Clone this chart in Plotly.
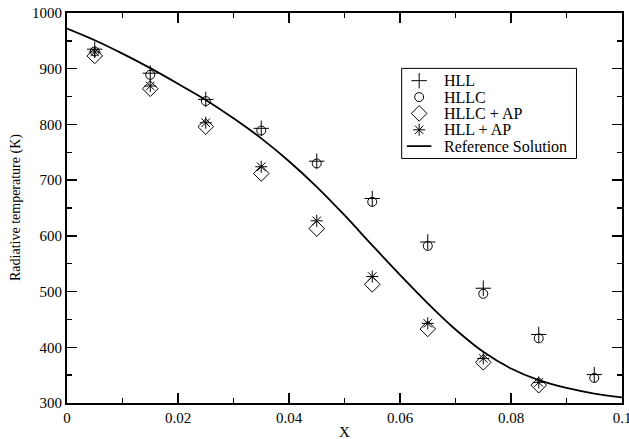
import plotly.graph_objects as go

x_pts = [0.005, 0.015, 0.025, 0.035, 0.045, 0.055, 0.065, 0.075, 0.085, 0.095]
hll = [935, 892, 845, 793, 734, 667, 589, 506, 423, 351]
hllc = [931, 889, 842, 789, 730, 661, 582, 496, 416, 345]
x_ap = [0.005, 0.015, 0.025, 0.035, 0.045, 0.055, 0.065, 0.075, 0.085]
hllc_ap = [923, 864, 796, 712, 613, 513, 433, 373, 332]
hll_ap = [930, 869, 803, 724, 627, 527, 443, 380, 337]

x_ref = [0, 0.005, 0.01, 0.015, 0.02, 0.025, 0.03, 0.035, 0.04, 0.045, 0.05,
         0.055, 0.06, 0.065, 0.07, 0.075, 0.08, 0.085, 0.09, 0.095, 0.1]
t_ref = [972, 951, 927, 901, 873, 844, 811, 775, 734, 688, 637,
         583, 530, 479, 432, 392, 362, 341, 327, 317, 310]

x_tickvals = [0, 0.02, 0.04, 0.06, 0.08, 0.1]
x_ticktext = ["0", "0.02", "0.04", "0.06", "0.08", "0.1"]
y_tickvals = [300, 400, 500, 600, 700, 800, 900, 1000]

legend_names = ["HLL", "HLLC", "HLLC + AP", "HLL + AP", "Reference Solution"]
legend_symbols = ["cross-thin-open", "circle-open", "diamond-open", "asterisk-open", None]
legend_sizes = [11, 9, 12, 10, None]

FONT = "Liberation Serif"
BLACK = "black"

fig = go.Figure()
series = [(x_pts, hll), (x_pts, hllc), (x_ap, hllc_ap), (x_ap, hll_ap)]
for (xs, ys), name, sym, sz in zip(series, legend_names, legend_symbols, legend_sizes):
    fig.add_trace(go.Scatter(x=xs, y=ys, mode="markers", name=name, showlegend=False,
                             marker=dict(symbol=sym, size=sz, color=BLACK,
                                         line=dict(color=BLACK, width=1))))
fig.add_trace(go.Scatter(x=x_ref, y=t_ref, mode="lines", name=legend_names[4], showlegend=False,
                         line=dict(color=BLACK, width=1.8, shape="spline")))

# custom compact legend on its own small axis (row index scale)
rows = list(range(len(legend_names)))
for r, sym, sz in zip(rows[:4], legend_symbols[:4], legend_sizes[:4]):
    fig.add_trace(go.Scatter(x=[1.0], y=[r], xaxis="x2", yaxis="y2", mode="markers",
                             showlegend=False, hoverinfo="skip",
                             marker=dict(symbol=sym, size=sz, color=BLACK,
                                         line=dict(color=BLACK, width=1))))
fig.add_trace(go.Scatter(x=[0.3, 1.7], y=[rows[4], rows[4]], xaxis="x2", yaxis="y2",
                         mode="lines", showlegend=False, hoverinfo="skip",
                         line=dict(color=BLACK, width=1.8)))
for r, name in zip(rows, legend_names):
    fig.add_annotation(x=2.3, y=r, xref="x2", yref="y2", text=name, showarrow=False,
                       xanchor="left", yanchor="middle",
                       font=dict(family=FONT, size=16, color=BLACK))

axis_common = dict(
    showgrid=False, zeroline=False, showline=True, linecolor=BLACK, linewidth=2,
    mirror="allticks", ticks="inside", ticklen=10, tickwidth=1.5, tickcolor=BLACK,
    tickfont=dict(family=FONT, size=15, color=BLACK), automargin=False,
    ticklabeloverflow="allow",
)

# legend box geometry (paper fractions)
lx0, lx1 = 0.603, 0.918
ly0, ly1 = 0.627, 0.858

fig.update_layout(
    width=629, height=439,
    margin=dict(l=67, r=7, t=13, b=36),
    paper_bgcolor="white", plot_bgcolor="white",
    font=dict(family=FONT, color=BLACK),
    xaxis=dict(range=[0, 0.1], tickmode="array", tickvals=x_tickvals, ticktext=x_ticktext,
               minor=dict(dtick=0.01, tick0=0, ticks="inside", ticklen=5, tickcolor=BLACK, tickwidth=1.5),
               **axis_common),
    yaxis=dict(range=[300, 1000], tickmode="array", tickvals=y_tickvals,
               minor=dict(dtick=50, tick0=300, ticks="inside", ticklen=5, tickcolor=BLACK, tickwidth=1.5),
               **axis_common),
    xaxis2=dict(domain=[lx0, lx1], range=[0, 10], anchor="y2", visible=False, fixedrange=True),
    yaxis2=dict(domain=[ly0, ly1], range=[4.75, -0.75], anchor="x2", visible=False, fixedrange=True),
    showlegend=False,
    shapes=[dict(type="rect", xref="paper", yref="paper", x0=lx0, x1=lx1, y0=ly0, y1=ly1,
                 line=dict(color=BLACK, width=1), fillcolor="rgba(0,0,0,0)", layer="above")],
    annotations=list(fig.layout.annotations) + [
        dict(text="X", x=0.5, y=-0.075, xref="paper", yref="paper", showarrow=False,
             xanchor="center", yanchor="middle", font=dict(family=FONT, size=15, color=BLACK)),
        dict(text="Radiative temperature (K)", x=(16 - 67) / 555, y=0.5, xref="paper", yref="paper",
             showarrow=False, textangle=-90, xanchor="center", yanchor="middle",
             font=dict(family=FONT, size=14, color=BLACK)),
    ],
)

# remove the default page margin so the figure sits at the window's top-left corner
fig.write_html("out.html", config={"displayModeBar": False, "staticPlot": True},
               post_script="document.body.style.margin='0';document.body.style.overflow='hidden';")
